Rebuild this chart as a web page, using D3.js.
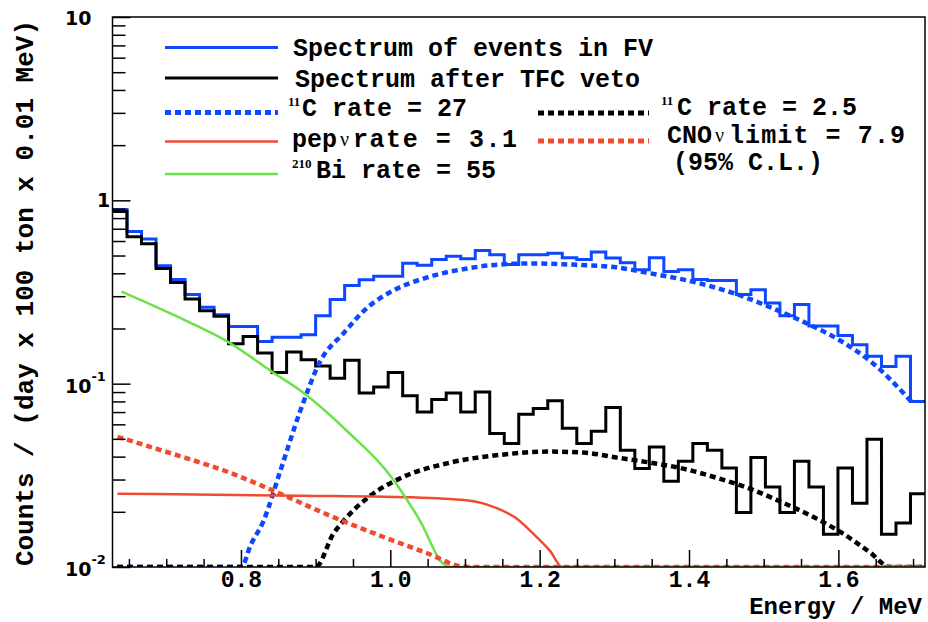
<!DOCTYPE html>
<html>
<head>
<meta charset="utf-8">
<script src="https://cdn.jsdelivr.net/npm/d3@7"></script>
<style>
  body { margin: 0; background: #fff; }
  svg { display: block; }
  .mono { font-family: "Liberation Mono", "Courier New", monospace; font-weight: bold; }
  .tick text { font-family: "Liberation Mono", monospace; font-weight: bold; }
</style>
</head>
<body>
<svg id="chart"></svg>
<script>
// histogram bins (56 bins across the x range)
const xRange = [0.628, 1.716];
const nBins = 56;

// spectrum of events in FV (blue)
const fvCounts = [0.89, 0.677, 0.616, 0.44, 0.37, 0.306, 0.261, 0.238, 0.205, 0.205,
  0.17, 0.179, 0.179, 0.185, 0.235, 0.288, 0.343, 0.369, 0.386, 0.386,
  0.454, 0.443, 0.476, 0.496, 0.48, 0.533, 0.505, 0.447, 0.505, 0.505,
  0.515, 0.486, 0.476, 0.522, 0.484, 0.457, 0.418, 0.486, 0.409, 0.418,
  0.37, 0.365, 0.365, 0.306, 0.325, 0.275, 0.235, 0.27, 0.206, 0.206,
  0.183, 0.163, 0.141, 0.124, 0.141, 0.08];

// spectrum after TFC veto (black)
const tfcCounts = [0.87, 0.632, 0.58, 0.425, 0.356, 0.29, 0.25, 0.233, 0.165, 0.181,
  0.147, 0.115, 0.149, 0.135, 0.125, 0.107, 0.134, 0.089, 0.096, 0.115,
  0.086, 0.07, 0.082, 0.089, 0.07, 0.09, 0.0534, 0.0472, 0.0682, 0.0733,
  0.0806, 0.0571, 0.0472, 0.055, 0.0742, 0.0433, 0.0345, 0.0452, 0.0294, 0.0377,
  0.0472, 0.0433, 0.0347, 0.0198, 0.0395, 0.0273, 0.0198, 0.0377, 0.0273, 0.0151,
  0.0347, 0.0223, 0.0497, 0.0151, 0.0174, 0.0251];

// fitted components
const c11E = [0.634, 0.8006, 0.8127, 0.8301, 0.8528, 0.8796, 0.9064, 0.9371, 0.9693, 1.004,
  1.0496, 1.1031, 1.1473, 1.1915, 1.2369, 1.3039, 1.348, 1.415, 1.4685, 1.5126,
  1.5581, 1.6023, 1.6465, 1.6987];
const c11V = [0.01, 0.01, 0.0131, 0.0178, 0.0335, 0.0713, 0.133, 0.188, 0.26, 0.322,
  0.38, 0.425, 0.447, 0.453, 0.447, 0.43, 0.40, 0.352, 0.303, 0.257,
  0.213, 0.172, 0.129, 0.079];

const c11VetoE = [0.634, 0.900, 0.9238, 0.9371, 0.9733, 1.0134, 1.0803, 1.1473, 1.2142, 1.2584,
  1.3039, 1.3480, 1.3922, 1.4377, 1.4819, 1.5260, 1.5715, 1.6063, 1.6425, 1.6692, 1.716];
const c11VetoV = [0.01, 0.01, 0.0152, 0.0178, 0.0245, 0.0305, 0.0371, 0.0409, 0.0426, 0.0421,
  0.0395, 0.0371, 0.0344, 0.0306, 0.0267, 0.0224, 0.0183, 0.0152, 0.0120, 0.01, 0.01];

const pepE = [0.6347, 0.8796, 1.0402, 1.1071, 1.1405, 1.1673, 1.1914, 1.2142, 1.2302, 1.716];
const pepV = [0.0251, 0.0245, 0.0239, 0.0230, 0.0211, 0.0186, 0.0152, 0.0122, 0.01, 0.01];

const cnoE = [0.6347, 0.7056, 0.7859, 0.8528, 0.9197, 0.9867, 1.0536, 1.0937, 1.110, 1.716];
const cnoV = [0.0513, 0.0418, 0.0326, 0.0251, 0.0190, 0.0148, 0.0117, 0.0101, 0.01, 0.01];

const biE = [0.640, 0.712, 0.786, 0.843, 0.880, 0.942, 1.000, 1.040, 1.071, 1.080, 1.716];
const biV = [0.318, 0.235, 0.166, 0.115, 0.0914, 0.0552, 0.0315, 0.0178, 0.0104, 0.01, 0.01];

const xMajor = [0.8, 1.0, 1.2, 1.4, 1.6];
const xMinor = [0.65, 0.7, 0.75, 0.85, 0.9, 0.95, 1.05, 1.1, 1.15, 1.25, 1.3, 1.35, 1.45, 1.5, 1.55, 1.65, 1.7];
const yDecades = [0.01, 0.1, 1, 10];

const blue = '#0d47ff', red = '#f04a30', green = '#6ae34a';

const width = 928, height = 622;
const margin = {left: 112.5, right: 3, top: 17, bottom: 55};

const svg = d3.select('#chart').attr('width', width).attr('height', height);

const x = d3.scaleLinear().domain(xRange).range([margin.left, width - margin.right]);
const y = d3.scaleLog().domain([0.01, 10]).range([height - margin.bottom, margin.top]);

svg.append('clipPath').attr('id', 'plot')
  .append('rect')
  .attr('x', x.range()[0]).attr('y', y.range()[1])
  .attr('width', x.range()[1] - x.range()[0])
  .attr('height', y.range()[0] - y.range()[1]);

const plot = svg.append('g').attr('clip-path', 'url(#plot)');

const binW = (xRange[1] - xRange[0]) / nBins;
function histPoints(counts) {
  const pts = counts.map((c, i) => [xRange[0] + i * binW, c]);
  pts.push([xRange[1], counts[counts.length - 1]]);
  return pts;
}

const stepLine = d3.line()
  .x(d => x(d[0]))
  .y(d => y(d[1]))
  .curve(d3.curveStepAfter);

const smooth = d3.line()
  .x(d => x(d[0]))
  .y(d => y(d[1]))
  .curve(d3.curveMonotoneX);

plot.append('path').attr('d', stepLine(histPoints(fvCounts)))
  .attr('fill', 'none').attr('stroke', blue).attr('stroke-width', 3);
plot.append('path').attr('d', stepLine(histPoints(tfcCounts)))
  .attr('fill', 'none').attr('stroke', '#000').attr('stroke-width', 3);

const curves = [
  {e: c11E, v: c11V, color: blue, dash: '6,4', w: 4.5},
  {e: c11VetoE, v: c11VetoV, color: '#000', dash: '6,4', w: 4.5},
  {e: pepE, v: pepV, color: red, dash: null, w: 2.5},
  {e: biE, v: biV, color: green, dash: null, w: 2.5},
  {e: cnoE, v: cnoV, color: red, dash: '6,4', w: 4.5}
];

curves.forEach(c => {
  plot.append('path')
    .attr('d', smooth(c.e.map((e, i) => [e, c.v[i]])))
    .attr('fill', 'none')
    .attr('stroke', c.color)
    .attr('stroke-width', c.w)
    .attr('stroke-dasharray', c.dash);
});

// axes
const bottom = y.range()[0];
svg.append('g')
  .attr('transform', `translate(0,${bottom})`)
  .call(d3.axisBottom(x).tickValues(xMajor).tickSize(-17).tickPadding(4)
    .tickFormat(d3.format('.1f')))
  .call(g => g.select('.domain').remove())
  .call(g => g.selectAll('.tick line').attr('stroke', '#000').attr('stroke-width', 1.5))
  .call(g => g.selectAll('.tick text').attr('font-size', 23).attr('fill', '#000')
    .attr('font-family', '"Liberation Mono", monospace'));

svg.append('g')
  .attr('transform', `translate(0,${bottom})`)
  .call(d3.axisBottom(x).tickValues(xMinor).tickSize(-8).tickFormat(''))
  .call(g => g.select('.domain').remove())
  .call(g => g.selectAll('.tick line').attr('stroke', '#000').attr('stroke-width', 1.5));

const yMinor = [];
yDecades.slice(0, 3).forEach(d => d3.range(2, 10).forEach(k => yMinor.push(d * k)));

svg.append('g')
  .attr('transform', `translate(${x.range()[0]},0)`)
  .call(d3.axisLeft(y).tickValues(yDecades).tickSize(-18).tickFormat(''))
  .call(g => g.select('.domain').remove())
  .call(g => g.selectAll('.tick line').attr('stroke', '#000').attr('stroke-width', 1.5));

svg.append('g')
  .attr('transform', `translate(${x.range()[0]},0)`)
  .call(d3.axisLeft(y).tickValues(yMinor).tickSize(-13).tickFormat(''))
  .call(g => g.select('.domain').remove())
  .call(g => g.selectAll('.tick line').attr('stroke', '#000').attr('stroke-width', 1.5));

// frame
svg.append('rect')
  .attr('x', x.range()[0]).attr('y', y.range()[1])
  .attr('width', x.range()[1] - x.range()[0])
  .attr('height', y.range()[0] - y.range()[1])
  .attr('fill', 'none').attr('stroke', '#000').attr('stroke-width', 1.5);

// y tick labels
const yLab = svg.append('g')
  .attr('font-family', '"DejaVu Sans", sans-serif')
  .attr('font-weight', 'bold')
  .attr('font-size', 19);

yLab.append('text').attr('x', 65).attr('y', y(10) + 8).text('10');
yLab.append('text').attr('x', 97).attr('y', y(1) + 7).text('1');
[[0.1, '-1'], [0.01, '-2']].forEach(([v, ex]) => {
  const t = yLab.append('text').attr('x', 65).attr('y', y(v) + 9);
  t.append('tspan').text('10');
  t.append('tspan').attr('font-size', 13).attr('dy', -12).text(ex);
});

// axis titles
svg.append('text')
  .attr('class', 'mono')
  .attr('font-size', 26)
  .attr('text-anchor', 'end')
  .attr('transform', 'translate(33,20) rotate(-90)')
  .text('Counts / (day x 100 ton x 0.01 MeV)');

svg.append('text')
  .attr('class', 'mono')
  .attr('font-size', 24)
  .attr('text-anchor', 'end')
  .attr('x', 922).attr('y', 614)
  .text('Energy / MeV');

// legend
const legend = svg.append('g').attr('class', 'mono').attr('font-size', 25).attr('fill', '#000');

function legLine(x0, x1, yy, color, dash, w) {
  legend.append('line')
    .attr('x1', x0).attr('x2', x1).attr('y1', yy).attr('y2', yy)
    .attr('stroke', color).attr('stroke-width', w).attr('stroke-dasharray', dash);
}

legLine(165, 278, 47.5, blue, null, 3);
legLine(165, 278, 78, '#000', null, 3);
legLine(165, 278, 112.5, blue, '6,4', 5);
legLine(165, 278, 141.5, red, null, 2.5);
legLine(165, 278, 174, green, null, 2.5);
legLine(538, 649, 113, '#000', '6,4', 5);
legLine(538, 649, 141, red, '6,4', 5);

legend.append('text').attr('x', 293).attr('y', 56).text('Spectrum of events in FV');
legend.append('text').attr('x', 295).attr('y', 87).text('Spectrum after TFC veto');

// small serif superscript (isotope mass number)
function sup(xx, yy, s) {
  legend.append('text').attr('x', xx).attr('y', yy - 10)
    .attr('font-family', '"Liberation Serif", serif').attr('font-weight', 'bold')
    .attr('font-size', 13).text(s);
}

function nu(xx, yy) {
  legend.append('text').attr('x', xx).attr('y', yy)
    .attr('font-family', '"Liberation Serif", serif').attr('font-weight', 'normal')
    .attr('font-size', 20).text('\u03bd');
}

sup(288, 116, '11');
legend.append('text').attr('x', 302).attr('y', 116).text('C rate = 27');

legend.append('text').attr('x', 292).attr('y', 147).text('pep');
nu(340, 146);
legend.append('text').attr('x', 353).attr('y', 147)
  .attr('textLength', 164).attr('lengthAdjust', 'spacing').text('rate = 3.1');

sup(292, 178, '210');
legend.append('text').attr('x', 316).attr('y', 178).text('Bi rate = 55');

sup(661, 115, '11');
legend.append('text').attr('x', 677).attr('y', 115).text('C rate = 2.5');

legend.append('text').attr('x', 667).attr('y', 143).text('CNO');
nu(715, 142);
legend.append('text').attr('x', 729).attr('y', 143)
  .attr('textLength', 176).attr('lengthAdjust', 'spacing').text('limit = 7.9');
legend.append('text').attr('x', 673).attr('y', 170).text('(95% C.L.)');
</script>
</body>
</html>
